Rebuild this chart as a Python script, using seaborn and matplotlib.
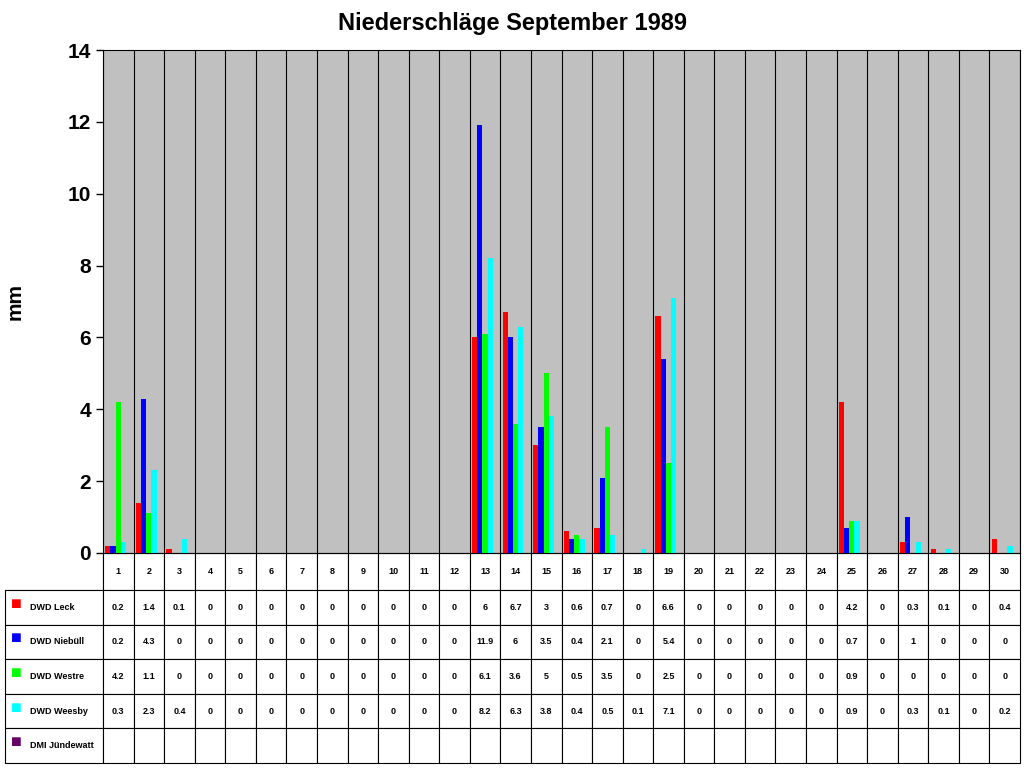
import matplotlib
matplotlib.use("Agg")
import matplotlib.pyplot as plt
import seaborn as sns
import pandas as pd
import numpy as np

days = [str(d) for d in range(1, 31)]
series = ["DWD Leck", "DWD Niebüll", "DWD Westre", "DWD Weesby", "DMI Jündewatt"]
leck = [0.2,1.4,0.1,0,0,0,0,0,0,0,0,0,6,6.7,3,0.6,0.7,0,6.6,0,0,0,0,0,4.2,0,0.3,0.1,0,0.4]
niebuell = [0.2,4.3,0,0,0,0,0,0,0,0,0,0,11.9,6,3.5,0.4,2.1,0,5.4,0,0,0,0,0,0.7,0,1,0,0,0]
westre = [4.2,1.1,0,0,0,0,0,0,0,0,0,0,6.1,3.6,5,0.5,3.5,0,2.5,0,0,0,0,0,0.9,0,0,0,0,0]
weesby = [0.3,2.3,0.4,0,0,0,0,0,0,0,0,0,8.2,6.3,3.8,0.4,0.5,0.1,7.1,0,0,0,0,0,0.9,0,0.3,0.1,0,0.2]
juendewatt = [None]*30
colors = ["#FF0000", "#0000FF", "#00FF00", "#00FFFF", "#660066"]

vals = [leck, niebuell, westre, weesby, juendewatt]
rows = []
for s, v in zip(series, vals):
    for d, x in zip(days, v):
        rows.append({"day": d, "series": s, "mm": np.nan if x is None else x})
df = pd.DataFrame(rows)

plt.rcParams['font.family'] = ['Liberation Sans', 'DejaVu Sans']
fig = plt.figure(figsize=(10.24, 7.68), dpi=100)
ax = fig.add_axes([103/1024, 1-553/768, 917/1024, 503/768])
sns.barplot(data=df, x="day", y="mm", hue="series", hue_order=series, order=days,
            palette=colors, width=0.85, ax=ax, legend=False, saturation=1)
ax.set_facecolor("#C0C0C0")
ax.set_ylim(0, 14)
ax.set_xlim(-0.5, 29.5)
ax.set_yticks(range(0, 15, 2))
ax.set_yticklabels([str(t) for t in range(0, 15, 2)], fontsize=15, fontweight="bold")
for i in range(31):
    ax.axvline(i - 0.5, color="black", lw=0.8, zorder=0)
ax.set_xticks([])
ax.set_xlabel("")
ax.set_ylabel("mm", fontsize=15, fontweight="bold")
ax.yaxis.set_label_coords(-0.085, 0.5)
ax.tick_params(axis="y", length=5, width=1)
for sp in ax.spines.values():
    sp.set_color("black")
fig.suptitle("Niederschläge September 1989", fontsize=17, fontweight="bold", y=0.985)

def fmt(x):
    if x is None:
        return ""
    return str(int(x)) if float(x).is_integer() else str(x)

cell = [[""] + days]
for s, v in zip(series, vals):
    cell.append(["      " + s] + [fmt(x) for x in v])
lx = -(103-5)/917
tb = ax.table(cellText=cell, bbox=[lx, -(763-553)/503, 1 - lx, (763-553)/503],
              cellLoc="center")
tb.auto_set_font_size(False)
colw = [98/1015] + [917/30/1015]*30
heights = [37] + [34.6]*5
for (r, c), ce in tb.get_celld().items():
    ce.set_width(colw[c])
    ce.set_height(heights[r]/210)
    ce.get_text().set_fontsize(6.5)
    ce.get_text().set_fontweight("bold")
    ce.set_linewidth(0.8)
    if c == 0:
        ce.get_text().set_ha("left")
        ce._loc = "left"
    if r == 0 and c == 0:
        ce.visible_edges = "BR"
for i, col in enumerate(colors):
    yc = -(590 - 553 + 34.6*i + 17.3 - 3) / 503
    ax.text(lx + 0.006, yc, "■", color=col, fontsize=13, transform=ax.transAxes,
            va="center", ha="left", clip_on=False)
fig.savefig("out.png", dpi=100)
